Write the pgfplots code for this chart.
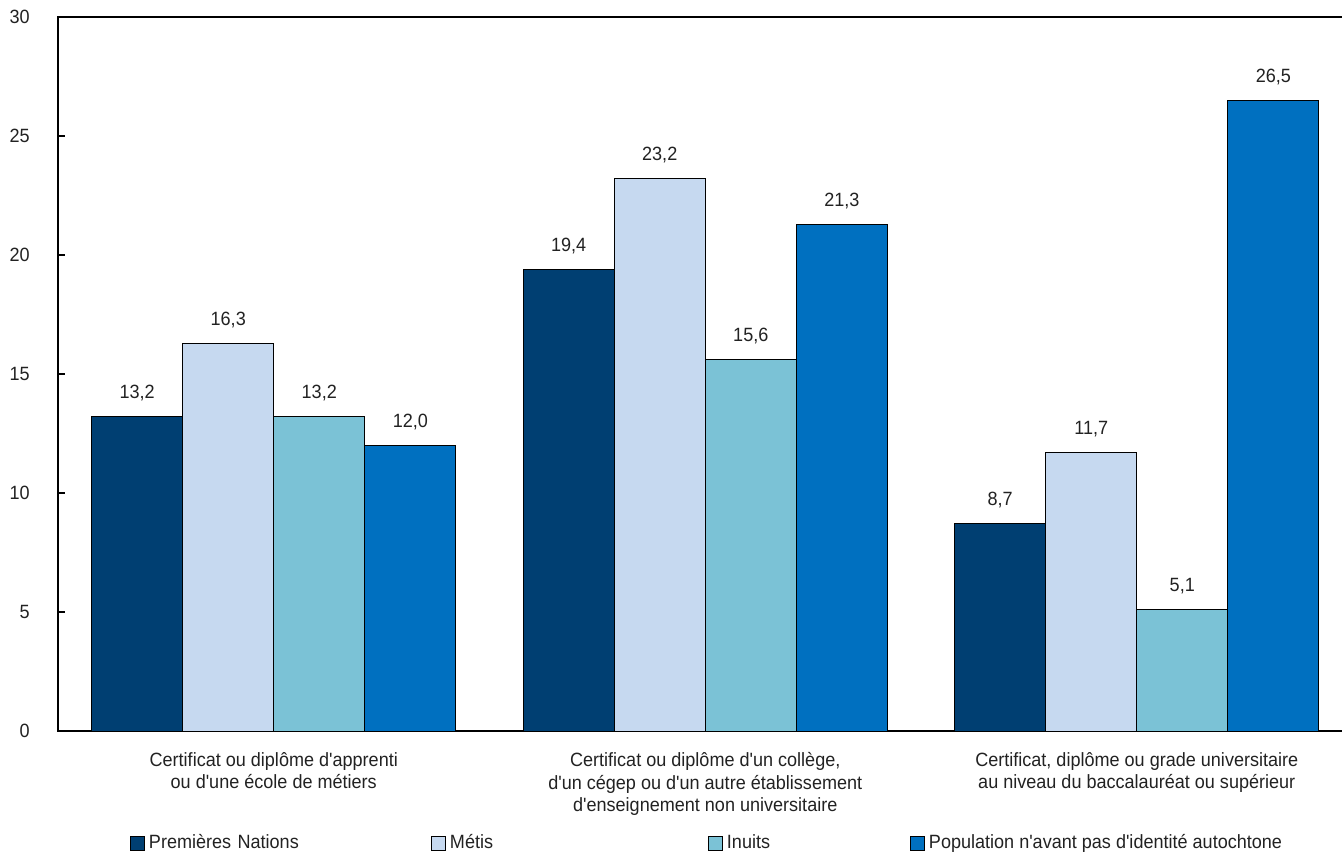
\documentclass[border=0pt]{standalone}
\usepackage{fontspec}
\setmainfont[FakeStretch=0.94, Ligatures=TeXOff]{Liberation Sans}
\usepackage{pgfplots}
\pgfplotsset{compat=1.18}
\definecolor{cA}{HTML}{003F72}
\definecolor{cB}{HTML}{C6D9F0}
\definecolor{cC}{HTML}{7BC2D6}
\definecolor{cD}{HTML}{0070C0}
\definecolor{txt}{HTML}{222222}
\begin{document}
\begin{tikzpicture}[font=\fontsize{9.6pt}{11.25pt}\selectfont]
\useasboundingbox (-29pt,-60pt) rectangle (642pt,365.5pt);
\begin{axis}[
  at={(0,0)}, anchor=south west,
  scale only axis, width=647.25pt, height=357pt,
  xmin=-0.5, xmax=2.5, ymin=0, ymax=30,
  ybar=0pt, bar width=0.211,
  xtick={0,1,2},
  xticklabels={{Certificat ou diplôme d'apprenti\\ou d'une école de métiers},
               {Certificat ou diplôme d'un collège,\\d'un cégep ou d'un autre établissement\\d'enseignement non universitaire},
               {Certificat, diplôme ou grade universitaire\\au niveau du baccalauréat ou supérieur}},
  xticklabel style={align=center, text=txt, inner sep=0pt, anchor=north, yshift=-10.5pt},
  x tick style={draw=none},
  ytick={0,5,...,30}, ytick pos=left, tick align=inside, major tick length=3.5pt,
  y tick style={line width=0.6pt, black},
  yticklabel style={inner sep=0pt, xshift=-14pt, text=txt},
  /pgf/number format/assume math mode=true,
  axis line style={line width=0.6pt},
  nodes near coords={\pgfmathprintnumber[fixed,fixed zerofill,precision=1,use comma,assume math mode=true]{\pgfplotspointmeta}},
  nodes near coords style={anchor=base, yshift=9pt, inner sep=0pt, text=txt},
  every axis plot/.append style={draw=black, line width=0.5pt},
  legend columns=4,
  legend style={draw=none, fill=none, inner sep=0pt, outer sep=0pt, at={(0.0556,-0.1570)}, anchor=west,
     nodes={inner sep=0pt, text=txt},
     /tikz/every odd column/.append style={column sep=2pt}},
  legend cell align=left,
  legend image code/.code={\draw[#1, draw=black, line width=0.5pt] (0pt,-3.5pt) rectangle (7pt,3.5pt);},
]
\addplot[fill=cA] coordinates {(0,13.2) (1,19.4) (2,8.7)};
\addplot[fill=cB] coordinates {(0,16.3) (1,23.2) (2,11.7)};
\addplot[fill=cC] coordinates {(0,13.2) (1,15.6) (2,5.1)};
\addplot[fill=cD] coordinates {(0,12.0) (1,21.3) (2,26.5)};
\addlegendentry[text width=141pt]{Premières Nations}
\addlegendentry[text width=129pt]{Métis}
\addlegendentry[text width=91.5pt]{Inuits}
\addlegendentry{Population n'avant pas d'identité autochtone}
\end{axis}
\end{tikzpicture}
\end{document}
